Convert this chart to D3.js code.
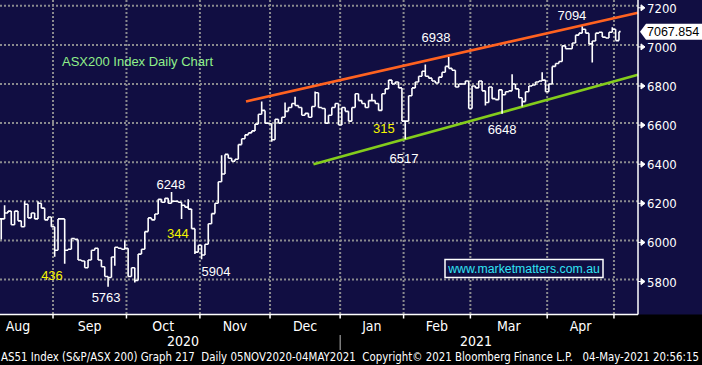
<!doctype html>
<html lang="en">
<head>
<meta charset="UTF-8">
<title>ASX200 Index Daily Chart</title>
<style>
  html, body { margin: 0; padding: 0; background: #000; }
  svg { display: block; }
  .narrow { font-family: 'Liberation Sans Narrow', 'Arial Narrow', 'DejaVu Sans Condensed', sans-serif; }
  .plain { font-family: 'Liberation Sans', Arial, sans-serif; }
</style>
</head>
<body>
<svg id="chart" width="702" height="365"></svg>
<script src="https://cdn.jsdelivr.net/npm/d3@7"></script>
<script>
// daily closes, one array per month (Aug starts mid-month on the chart)
const closeAug = [6110, 6140, 6150, 6080, 6150, 6100, 6070, 6185, 6115, 6140, 6110, 6190, 6165, 6105, 6120, 6070]
const closeSep = [5950, 6110, 6110, 5950, 5955, 6010, 6005, 5900, 5895, 5860, 5900, 5950, 5960, 5900, 5865, 5815, 5810, 5915, 5965, 5960, 5955, 5960]
const closeOct = [5815, 5860, 5795, 5930, 5955, 6045, 6115, 6105, 6135, 6210, 6195, 6215, 6190, 6200, 6200, 6195, 6180, 6170, 6160, 6060, 5940, 5975]
const closeNov = [5925, 5980, 6085, 6137, 6190, 6300, 6340, 6440, 6420, 6405, 6415, 6490, 6520, 6540, 6550, 6560, 6595, 6645, 6665, 6600, 6597]
const closeDec = [6515, 6620, 6600, 6630, 6660, 6680, 6700, 6690, 6680, 6640, 6650, 6630, 6685, 6755, 6680, 6675, 6600, 6640, 6680, 6700, 6590]
const closeJan = [6680, 6660, 6610, 6680, 6750, 6715, 6700, 6680, 6715, 6715, 6700, 6665, 6750, 6775, 6820, 6800, 6810, 6780, 6610]
const closeFeb = [6610, 6740, 6780, 6810, 6840, 6865, 6840, 6830, 6815, 6805, 6835, 6860, 6890, 6880, 6870, 6785, 6800, 6800, 6815, 6675]
const closeMar = [6790, 6780, 6815, 6765, 6705, 6785, 6725, 6720, 6770, 6745, 6760, 6765, 6800, 6775, 6730, 6710, 6760, 6790, 6795, 6810, 6815, 6820, 6760]
const closeApr = [6800, 6890, 6905, 6915, 6995, 6980, 6980, 7010, 7050, 7060, 7080, 7060, 7005, 7020, 7060, 7065, 7040, 7035, 7065, 7080]
const closeMay = [7022, 7067.854]

const monthNames = ['Aug', 'Sep', 'Oct', 'Nov', 'Dec', 'Jan', 'Feb', 'Mar', 'Apr', 'May']
const augDaysHidden = 5   // trading days of August before the first bar
const lastPrice = 7067.854

// intraday extremes that stick out of the open/close range: [day index, value]
const highWicks = [[1, 6180], [7, 6200], [11, 6200], [37, 6000], [51, 6248], [56, 6210], [66, 6435], [78, 6710],
  [85, 6705], [88, 6735], [94, 6762], [111, 6750], [127, 6900], [134, 6938], [153, 6850], [162, 6860], [174, 7094], [183, 7090]]
const lowWicks = [[0, 6005], [16, 5917], [19, 5880], [32, 5763], [34, 5870], [40, 5785], [54, 6110], [58, 5930], [60, 5904],
  [81, 6505], [121, 6517], [145, 6690], [150, 6648], [156, 6685], [177, 6910]]

const yTicks = [5800, 6000, 6200, 6400, 6600, 6800, 7000, 7200]

// trend lines: [day index, value] end points
const upperTrend = [[73.8, 6711], [191.2, 7165]]
const lowerTrend = [[94, 6390], [191.2, 6847]]

// text notes: [text, day position, value, colour]
const notes = [
  ['6938', 130.7, 7040, 'white'], ['7094', 171.4, 7148, 'white'], ['6648', 150.5, 6565, 'white'],
  ['6517', 121.1, 6421, 'white'], ['6248', 51.3, 6288, 'white'], ['5904', 64.8, 5843, 'white'],
  ['5763', 31.9, 5710, 'white'], ['315', 115.1, 6570, '#f4f400'], ['344', 53.4, 6033, '#f4f400'],
  ['436', 15.7, 5818, '#f4f400']
]

const monthly = [closeAug, closeSep, closeOct, closeNov, closeDec, closeJan, closeFeb, closeMar, closeApr, closeMay]
const closes = monthly.flat()

// first trading day index of every month
const monthStarts = []
let acc = 0
monthly.forEach((m, k) => { monthStarts.push(k === 0 ? -augDaysHidden : acc); acc += m.length })

const navy = '#110e42'
const plotRight = 638, plotBottom = 314.5

const svg = d3.select('#chart')
const x = d3.scaleLinear().domain([0, 191.2]).range([-0.42, plotRight])
const y = d3.scaleLinear().domain([5800, 7200]).range([279.5, 5.8])

svg.append('rect').attr('width', 702).attr('height', plotBottom).attr('fill', navy)

// dotted grid
const grid = svg.append('g').attr('stroke', '#8a8a8e').attr('stroke-width', 2).attr('stroke-dasharray', '2,2')
grid.selectAll('.h').data(yTicks).join('line')
  .attr('x1', 0).attr('x2', plotRight).attr('y1', d => y(d)).attr('y2', d => y(d))
grid.selectAll('.v').data(monthStarts.slice(1)).join('line')
  .attr('x1', d => x(d)).attr('x2', d => x(d)).attr('y1', 0).attr('y2', plotBottom)

// trend lines
const trend = d3.line().x(d => x(d[0])).y(d => y(d[1]))
svg.append('path').attr('d', trend(upperTrend)).attr('stroke', '#ff6220').attr('stroke-width', 2.6).attr('fill', 'none')
svg.append('path').attr('d', trend(lowerTrend)).attr('stroke', '#84cc1c').attr('stroke-width', 2.6).attr('fill', 'none')

// price bars: left tick = open (previous close), right tick = close
const hiMap = new Map(highWicks), loMap = new Map(lowWicks)
const half = (x(1) - x(0)) / 2
let bars = ''
closes.forEach((c, i) => {
  const o = i ? closes[i - 1] : c
  const hi = Math.max(o, c, hiMap.has(i) ? hiMap.get(i) : -Infinity)
  const lo = Math.min(o, c, loMap.has(i) ? loMap.get(i) : Infinity)
  const cx = x(i + 0.5)
  bars += `M${cx - half},${y(o)}H${cx}M${cx},${y(hi)}V${y(lo)}M${cx},${y(c)}H${cx + half}`
})
svg.append('path').attr('d', bars).attr('stroke', 'white').attr('stroke-width', 1.6).attr('fill', 'none')

// notes
svg.append('g').attr('class', 'plain').attr('font-size', 13)
  .selectAll('text').data(notes).join('text')
  .attr('x', d => x(d[1])).attr('y', d => y(d[2]))
  .attr('text-anchor', 'middle').attr('dominant-baseline', 'central')
  .attr('fill', d => d[3]).text(d => d[0])

svg.append('text').attr('class', 'plain').attr('x', 62).attr('y', 66)
  .attr('font-size', 13).attr('fill', '#90f08a').text('ASX200 Index Daily Chart')

// web address box
svg.append('rect').attr('x', 445).attr('y', 259.5).attr('width', 158).attr('height', 18)
  .attr('fill', navy).attr('stroke', 'white').attr('stroke-width', 1.5)
svg.append('text').attr('class', 'plain').attr('x', 524).attr('y', 273)
  .attr('text-anchor', 'middle').attr('font-size', 12.3).attr('fill', '#30e4f4').text('www.marketmatters.com.au')

// axes
svg.append('line').attr('x1', plotRight).attr('x2', plotRight).attr('y1', 0).attr('y2', plotBottom)
  .attr('stroke', 'white').attr('stroke-width', 1.5)
svg.append('line').attr('x1', 0).attr('x2', plotRight).attr('y1', plotBottom).attr('y2', plotBottom)
  .attr('stroke', 'white').attr('stroke-width', 1.5)

const yAxis = svg.append('g').attr('class', 'narrow')
yAxis.selectAll('path').data(yTicks).join('path')
  .attr('d', d => `M${plotRight},${y(d) + 2}h4M${plotRight + 3},${y(d) - 1}l4,3l-4,3z`)
  .attr('stroke', 'white').attr('fill', 'white').attr('stroke-width', 1)
yAxis.selectAll('text').data(yTicks).join('text')
  .attr('x', plotRight + 9).attr('y', d => y(d) + 2.5).attr('dominant-baseline', 'central')
  .attr('font-size', 13).attr('fill', 'white').text(d => d)

// last price flag
const ly = y(lastPrice)
svg.append('path').attr('d', `M640,${ly}L646,${ly - 8}H702V${ly + 8}H646Z`).attr('fill', 'white')
svg.append('text').attr('class', 'plain').attr('x', 647).attr('y', ly).attr('dominant-baseline', 'central')
  .attr('font-size', 12.5).attr('fill', 'black').text(lastPrice.toFixed(3))

// month ticks and labels
svg.append('g').selectAll('line').data(monthStarts.slice(1)).join('line')
  .attr('x1', d => x(d)).attr('x2', d => x(d)).attr('y1', plotBottom).attr('y2', plotBottom + 4)
  .attr('stroke', 'white').attr('stroke-width', 1.5)
const labelMonths = monthNames.slice(0, -1)
svg.append('g').attr('class', 'narrow').selectAll('text').data(labelMonths).join('text')
  .attr('x', (d, k) => x((monthStarts[k] + monthStarts[k + 1]) / 2)).attr('y', 331)
  .attr('text-anchor', 'middle').attr('font-size', 14).attr('fill', 'white').text(d => d)

// year row
svg.append('line').attr('x1', x(monthStarts[5])).attr('x2', x(monthStarts[5])).attr('y1', 335).attr('y2', 350)
  .attr('stroke', '#bbbbbb').attr('stroke-width', 1)
svg.append('text').attr('class', 'narrow').attr('x', 183).attr('y', 346).attr('text-anchor', 'middle')
  .attr('font-size', 14).attr('fill', 'white').text('2020')
svg.append('text').attr('class', 'narrow').attr('x', 476).attr('y', 346).attr('text-anchor', 'middle')
  .attr('font-size', 14).attr('fill', 'white').text('2021')

svg.append('text').attr('class', 'narrow').attr('x', 1).attr('y', 361)
  .attr('font-size', 12.5).attr('fill', 'white')
  .attr('textLength', 698).attr('lengthAdjust', 'spacingAndGlyphs')
  .attr('xml:space', 'preserve')
  .text('AS51 Index (S&P/ASX 200) Graph 217  Daily 05NOV2020-04MAY2021  Copyright\u00a9 2021 Bloomberg Finance L.P.   04-May-2021 20:56:15')
</script>
</body>
</html>
